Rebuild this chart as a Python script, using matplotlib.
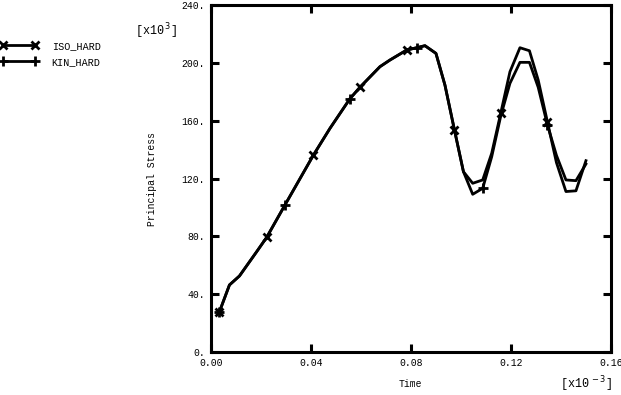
import matplotlib
matplotlib.use("Agg")
import matplotlib.pyplot as plt
from matplotlib.ticker import FixedLocator, FixedFormatter

plt.rcParams['font.family'] = ['Liberation Mono', 'DejaVu Sans Mono']

# Time values (x 1e-3)
time = [0.0035, 0.0075, 0.0115, 0.0184, 0.0224, 0.0297, 0.0411, 0.0477, 0.0557, 0.0597,
        0.0677, 0.0717, 0.0784, 0.0824, 0.0857, 0.0901, 0.0937, 0.0975, 0.1011, 0.1048,
        0.1088, 0.1124, 0.1160, 0.1197, 0.1237, 0.1275, 0.1310, 0.1347, 0.1383, 0.1421,
        0.1461, 0.1501]
# Principal stress (x 1e3)
iso_hard = [28, 46.5, 52.7, 69.5, 79.4, 101.7, 136.2, 154.6, 175.1, 183,
            197.2, 201.8, 208.7, 210.3, 211.7, 206.4, 184.5, 153.5, 124.7, 116.7,
            119, 137.4, 165, 193.7, 210.3, 208.2, 188, 159, 131, 111,
            111.5, 132.3]
kin_hard = [28, 46.5, 52.7, 69.5, 79.4, 101.7, 136.2, 154.6, 175.1, 183,
            197.2, 201.8, 208.7, 210.3, 211.7, 206.4, 184.5, 153.5, 124.7, 109.1,
            113.2, 135, 163, 185.7, 200.2, 200.2, 183, 157, 136, 119,
            118.5, 130]
iso_marks = [0, 4, 6, 9, 12, 17, 22, 27]
kin_marks = [0, 5, 8, 13, 20, 27]

xticks = [0.0, 0.04, 0.08, 0.12, 0.16]
xticklabels = ["0.00", "0.04", "0.08", "0.12", "0.16"]
yticks = [0, 40, 80, 120, 160, 200, 240]
yticklabels = ["0.", "40.", "80.", "120.", "160.", "200.", "240."]

fig = plt.figure(figsize=(6.21, 3.95), dpi=100)
ax = fig.add_axes([0.3393, 0.1081, 0.6441, 0.88])

l1, = ax.plot(time, iso_hard, color='black', lw=2.0, marker='x', markersize=6,
              mew=2.0, markevery=iso_marks, label='ISO_HARD')
l2, = ax.plot(time, kin_hard, color='black', lw=2.0, marker='+', markersize=7,
              mew=2.0, markevery=kin_marks, label='KIN_HARD')

ax.set_xlim(0, 0.16)
ax.set_ylim(0, 240)
ax.xaxis.set_major_locator(FixedLocator(xticks))
ax.xaxis.set_major_formatter(FixedFormatter(xticklabels))
ax.yaxis.set_major_locator(FixedLocator(yticks))
ax.yaxis.set_major_formatter(FixedFormatter(yticklabels))
ax.tick_params(direction='in', length=6, width=2.2, labelsize=7,
               top=True, right=True, pad=4)
for s in ax.spines.values():
    s.set_linewidth(2.2)

ax.set_xlabel("Time", fontsize=7, labelpad=8)
ax.set_ylabel("Principal Stress", fontsize=7, labelpad=18)

fig.text(0.218, 0.922, r"[x10$^{\,3}$]", fontsize=8.5, ha='left', va='center')
fig.text(0.902, 0.028, r"[x10$^{\,-3}$]", fontsize=8.5, ha='left', va='center')

fig.legend(handles=[l1, l2], loc='upper left', bbox_to_anchor=(0.0, 0.897),
           frameon=False, fontsize=7.3, numpoints=2, handlelength=3.8,
           handletextpad=1.3, labelspacing=0.6, borderaxespad=0, borderpad=0)

fig.savefig("out.png", dpi=100)
